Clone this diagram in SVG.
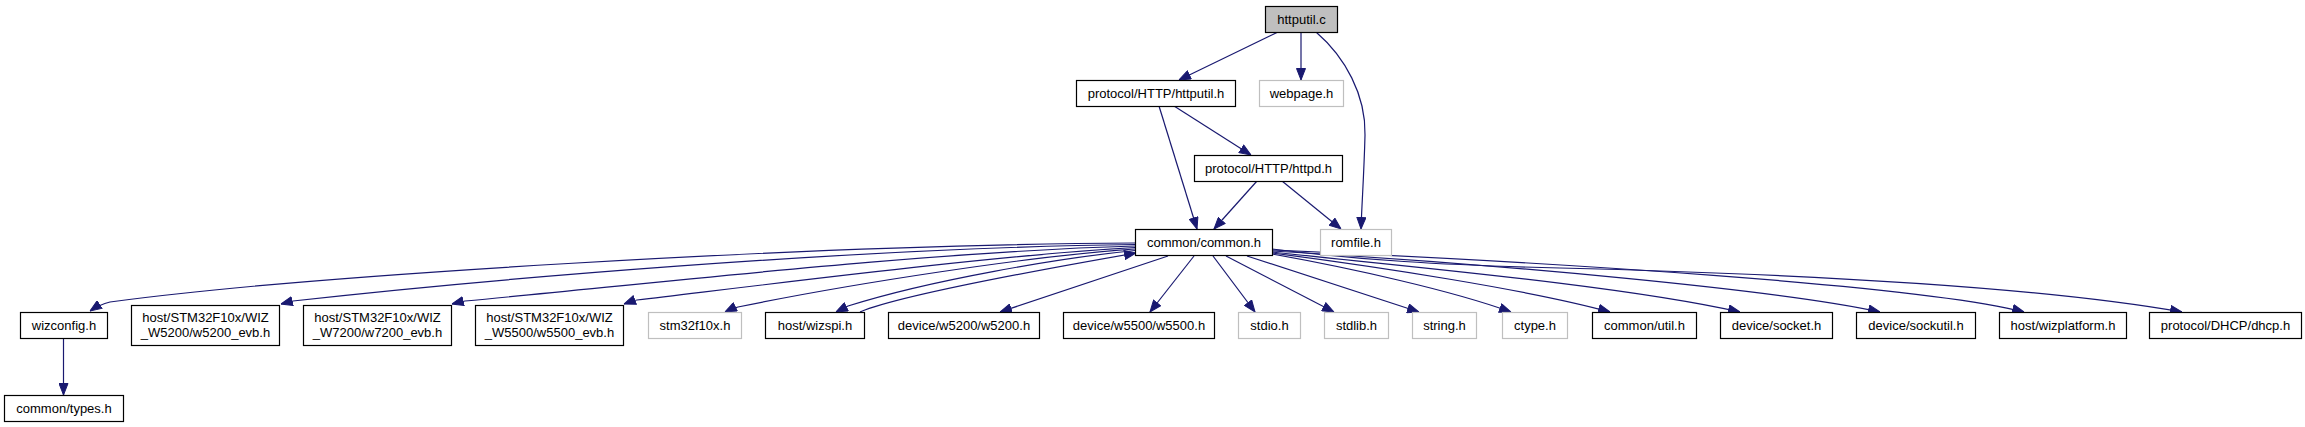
<svg xmlns="http://www.w3.org/2000/svg" width="2305" height="427" viewBox="0 0 2305 427">
<style>
.n rect{fill:#fff;stroke:#000;stroke-width:1.2}
.g rect{fill:#fff;stroke:#bfbfbf;stroke-width:1.2}
.root rect{fill:#bfbfbf;stroke:#000;stroke-width:1.2}
text{font-family:"Liberation Sans",Arial,sans-serif;font-size:13px;fill:#000;text-anchor:middle}
#edges path{fill:none;stroke:#191970;stroke-width:1.2;marker-end:url(#arr)}
</style>
<defs>
<marker id="arr" viewBox="0 0 12 10" refX="12" refY="5" markerWidth="12" markerHeight="10" markerUnits="userSpaceOnUse" orient="auto">
<path d="M0.5,0.5 L12,5 L0.5,9.5 z" fill="#191970" stroke="#191970" stroke-width="1"/>
</marker>
</defs>
<rect width="2305" height="427" fill="#fff"/>
<g id="edges">
<path d="M1278,32 L1179,80"/>
<path d="M1301,32 L1301,80"/>
<path d="M1316,32 C1345,57 1366,95 1365,135 C1364,175 1362,200 1361,229"/>
<path d="M1159,106 L1197,229"/>
<path d="M1174,106 L1251,155"/>
<path d="M1257,181 L1214,229"/>
<path d="M1282,181 L1341,229"/>
<path d="M63.5,338 L63.5,395"/>
<path d="M1135,243 C800,245 300,276 110,302 C102,304 96,307 90,311"/>
<path d="M1135,244.5 C850,248 480,280 293,301 C289,302 285,303 281,304"/>
<path d="M1135,246 C920,252 640,285 465,301 C460,302 456,303 452,304"/>
<path d="M1135,247.5 C1000,255 780,283 637,300 C632,301 628,302.5 624,304"/>
<path d="M1135,249 C1030,256 850,284 738,307 C734,308.5 729,310 725,312"/>
<path d="M1135,250.5 C1060,258 930,280 848,306 C844,308 840,310 836,312"/>
<path d="M860,312 C900,295 1050,268 1136,253"/>
<path d="M1168,256 L1000,312"/>
<path d="M1194,256 L1150,312"/>
<path d="M1213,256 L1255,312"/>
<path d="M1226,256 L1334,312"/>
<path d="M1247,256 L1419,312"/>
<path d="M1272,254 C1350,268 1450,290 1511,312"/>
<path d="M1272,253 C1380,267 1530,290 1610,312"/>
<path d="M1272,252 C1400,266 1620,285 1740,312"/>
<path d="M1272,251 C1500,264 1780,290 1880,312"/>
<path d="M1272,250 C1550,262 1920,285 2024,312"/>
<path d="M1272,249 C1360,260 1440,265 1560,268 C1680,271 2000,280 2182,312"/>
</g>
<g id="httputil_c" class="root"><rect x="1265.5" y="6.5" width="72" height="26"/><text x="1301.5" y="24">httputil.c</text></g>
<g id="httputil_h" class="n"><rect x="1076.5" y="80.5" width="159" height="26"/><text x="1156" y="98">protocol/HTTP/httputil.h</text></g>
<g id="webpage_h" class="g"><rect x="1259.5" y="80.5" width="84" height="26"/><text x="1301.5" y="98">webpage.h</text></g>
<g id="httpd_h" class="n"><rect x="1194.5" y="155.5" width="148" height="26"/><text x="1268.5" y="173">protocol/HTTP/httpd.h</text></g>
<g id="common_h" class="n"><rect x="1135.5" y="229.5" width="137" height="26"/><text x="1204" y="247">common/common.h</text></g>
<g id="romfile_h" class="g"><rect x="1320.5" y="229.5" width="71" height="26"/><text x="1356" y="247">romfile.h</text></g>
<g id="wizconfig_h" class="n"><rect x="20.5" y="312.5" width="87" height="26"/><text x="64" y="330">wizconfig.h</text></g>
<g id="w5200_evb_h" class="n"><rect x="131.5" y="305.5" width="148" height="40"/><text x="205.5" y="322">host/STM32F10x/WIZ</text><text x="205.5" y="337">_W5200/w5200_evb.h</text></g>
<g id="w7200_evb_h" class="n"><rect x="303.5" y="305.5" width="148" height="40"/><text x="377.5" y="322">host/STM32F10x/WIZ</text><text x="377.5" y="337">_W7200/w7200_evb.h</text></g>
<g id="w5500_evb_h" class="n"><rect x="475.5" y="305.5" width="148" height="40"/><text x="549.5" y="322">host/STM32F10x/WIZ</text><text x="549.5" y="337">_W5500/w5500_evb.h</text></g>
<g id="stm32f10x_h" class="g"><rect x="648.5" y="312.5" width="93" height="26"/><text x="695" y="330">stm32f10x.h</text></g>
<g id="wizspi_h" class="n"><rect x="765.5" y="312.5" width="99" height="26"/><text x="815" y="330">host/wizspi.h</text></g>
<g id="w5200_h" class="n"><rect x="888.5" y="312.5" width="151" height="26"/><text x="964" y="330">device/w5200/w5200.h</text></g>
<g id="w5500_h" class="n"><rect x="1063.5" y="312.5" width="151" height="26"/><text x="1139" y="330">device/w5500/w5500.h</text></g>
<g id="stdio_h" class="g"><rect x="1238.5" y="312.5" width="62" height="26"/><text x="1269.5" y="330">stdio.h</text></g>
<g id="stdlib_h" class="g"><rect x="1324.5" y="312.5" width="64" height="26"/><text x="1356.5" y="330">stdlib.h</text></g>
<g id="string_h" class="g"><rect x="1412.5" y="312.5" width="64" height="26"/><text x="1444.5" y="330">string.h</text></g>
<g id="ctype_h" class="g"><rect x="1502.5" y="312.5" width="65" height="26"/><text x="1535" y="330">ctype.h</text></g>
<g id="util_h" class="n"><rect x="1592.5" y="312.5" width="104" height="26"/><text x="1644.5" y="330">common/util.h</text></g>
<g id="socket_h" class="n"><rect x="1720.5" y="312.5" width="112" height="26"/><text x="1776.5" y="330">device/socket.h</text></g>
<g id="sockutil_h" class="n"><rect x="1856.5" y="312.5" width="119" height="26"/><text x="1916" y="330">device/sockutil.h</text></g>
<g id="wizplatform_h" class="n"><rect x="1999.5" y="312.5" width="127" height="26"/><text x="2063" y="330">host/wizplatform.h</text></g>
<g id="dhcp_h" class="n"><rect x="2149.5" y="312.5" width="152" height="26"/><text x="2225.5" y="330">protocol/DHCP/dhcp.h</text></g>
<g id="types_h" class="n"><rect x="4.5" y="395.5" width="119" height="26"/><text x="64" y="413">common/types.h</text></g>
</svg>
